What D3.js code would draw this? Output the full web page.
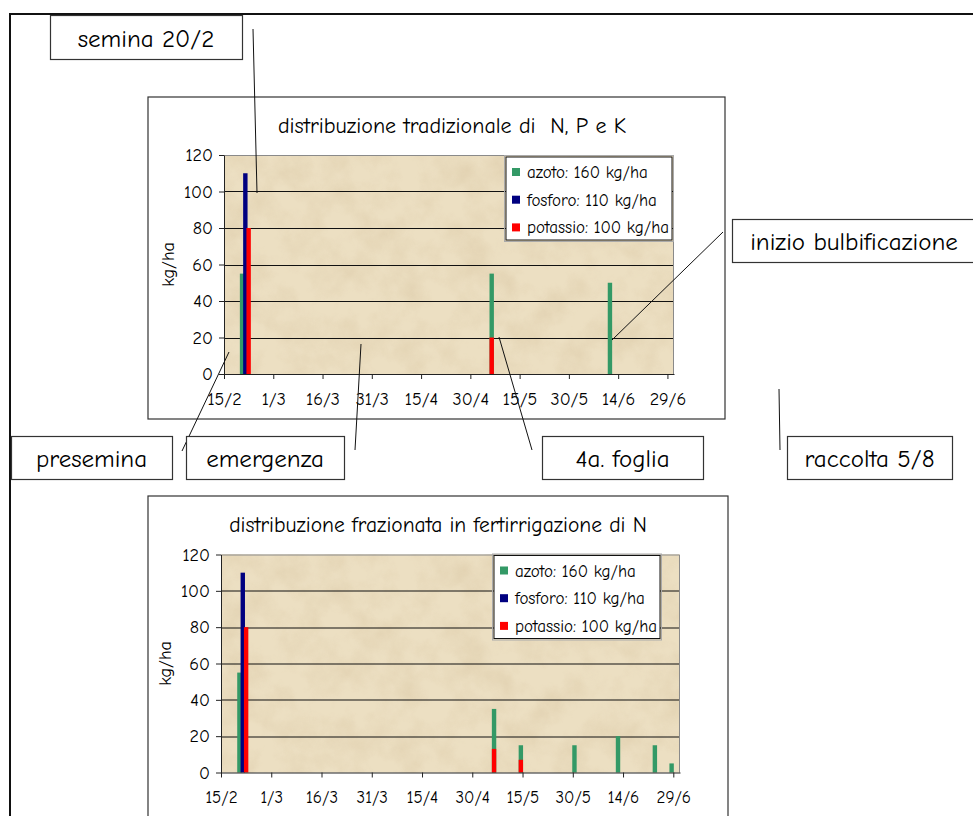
<!DOCTYPE html>
<html>
<head>
<meta charset="utf-8">
<script src="https://cdn.jsdelivr.net/npm/d3@7/dist/d3.min.js"></script>
<style>
  body { margin: 0; background: #fff; }
  svg text { font-family: "Comic Sans MS", "Comic Neue", "DejaVu Sans", sans-serif; fill: #000; white-space: pre; }
</style>
</head>
<body>
<div id="chart"></div>
<script>
// x tick labels (day/month), y ticks
const tickLabels = ["15/2", "1/3", "16/3", "31/3", "15/4", "30/4", "15/5", "30/5", "14/6", "29/6"];
const yTicks = [0, 20, 40, 60, 80, 100, 120];

const seriesNames = ["azoto: 160 kg/ha", "fosforo: 110 kg/ha", "potassio: 100 kg/ha"];
const seriesColors = ["#339966", "#000080", "#ff0000"];

// distribuzione tradizionale
const tradAzotoDates = ["20/2", "6/5", "11/6"];
const tradAzotoValues = [55, 55, 50];
const tradFosforoDates = ["21/2"];
const tradFosforoValues = [110];
const tradPotassioDates = ["22/2", "6/5"];
const tradPotassioValues = [80, 20];

// distribuzione frazionata in fertirrigazione
const frazAzotoDates = ["20/2", "6/5", "14/5", "30/5", "12/6", "23/6", "28/6"];
const frazAzotoValues = [55, 35, 15, 15, 20, 15, 5];
const frazFosforoDates = ["21/2"];
const frazFosforoValues = [110];
const frazPotassioDates = ["22/2", "6/5", "14/5"];
const frazPotassioValues = [80, 13, 7];

const parseDay = s => {
    let p = s.split("/");
    return new Date(2004, +p[1] - 1, +p[0]);
};

const width = 973, height = 816;

const svg = d3.select("#chart").append("svg")
    .attr("width", width)
    .attr("height", height);

svg.append("rect").attr("width", width).attr("height", height).attr("fill", "#fff");

// paper texture for the plot areas
const defs = svg.append("defs");
const filt = defs.append("filter").attr("id", "paper")
    .attr("x", 0).attr("y", 0).attr("width", 1).attr("height", 1);
filt.append("feTurbulence")
    .attr("type", "fractalNoise")
    .attr("baseFrequency", "0.03")
    .attr("numOctaves", 5)
    .attr("seed", 7);
filt.append("feColorMatrix")
    .attr("type", "matrix")
    .attr("values", "0 0 0 0 0.74  0 0 0 0 0.62  0 0 0 0 0.42  1.9 0 0 0 -0.72");

// outer frame
svg.append("rect")
    .attr("x", 10).attr("y", 14)
    .attr("width", 1000).attr("height", 900)
    .attr("fill", "none")
    .attr("stroke", "#111")
    .attr("stroke-width", 2);

function drawChart(cfg) {
    let g = svg.append("g");

    // chart frame
    g.append("rect")
        .attr("x", cfg.frame.x).attr("y", cfg.frame.y)
        .attr("width", cfg.frame.w).attr("height", cfg.frame.h)
        .attr("fill", "#fff")
        .attr("stroke", "#333")
        .attr("stroke-width", 1.2);

    g.append("text")
        .attr("x", cfg.titleX)
        .attr("y", cfg.titleY)
        .attr("text-anchor", "middle")
        .attr("font-size", cfg.titleFont)
        .text(cfg.title);

    let p = g.append("g")
        .attr("transform", "translate(" + cfg.plot.x + "," + cfg.plot.y + ")");

    let x = d3.scaleTime()
        .domain([new Date(2004, 1, 15), new Date(2004, 6, 1)])
        .range([0, cfg.plot.w]);
    let y = d3.scaleLinear()
        .domain([0, 120])
        .range([cfg.plot.h, 0]);

    // background
    p.append("rect")
        .attr("width", cfg.plot.w).attr("height", cfg.plot.h)
        .attr("fill", "#ecdfc2");
    p.append("rect")
        .attr("width", cfg.plot.w).attr("height", cfg.plot.h)
        .attr("filter", "url(#paper)")
        .attr("opacity", 0.75);

    // gridlines
    p.selectAll(".grid")
        .data(yTicks.filter(d => d > 0 && d < 120))
        .enter().append("line")
        .attr("x1", 0).attr("x2", cfg.plot.w)
        .attr("y1", d => Math.round(y(d)) + 0.5)
        .attr("y2", d => Math.round(y(d)) + 0.5)
        .attr("stroke", "#111")
        .attr("stroke-width", 1);

    // plot border (top / right)
    p.append("path")
        .attr("d", "M0,0.5H" + (cfg.plot.w - 0.5) + "V" + cfg.plot.h)
        .attr("fill", "none")
        .attr("stroke", "#8a8a8a");

    // bars
    let halfDay = (x(new Date(2004, 1, 16)) - x(new Date(2004, 1, 15))) / 2;
    let barW = 4.4;
    cfg.series.forEach((s, i) => {
        let rows = s.dates.map((d, j) => ({date: parseDay(d), value: s.values[j]}));
        p.selectAll(".bar-" + i)
            .data(rows)
            .enter().append("rect")
            .attr("x", d => x(d.date) + halfDay - barW / 2)
            .attr("y", d => y(d.value))
            .attr("width", barW)
            .attr("height", d => cfg.plot.h - y(d.value))
            .attr("fill", seriesColors[i]);
    });

    // axes
    let xAxis = d3.axisBottom(x)
        .tickValues(tickLabels.map(parseDay))
        .tickFormat((d, i) => tickLabels[i])
        .tickSize(5)
        .tickSizeOuter(0)
        .tickPadding(cfg.xPad);
    let yAxis = d3.axisLeft(y)
        .tickValues(yTicks)
        .tickSize(5)
        .tickSizeOuter(0)
        .tickPadding(6);

    p.append("g")
        .attr("transform", "translate(0," + cfg.plot.h + ")")
        .call(xAxis)
        .attr("font-size", cfg.xFont)
        .attr("color", "#222");
    p.append("g")
        .call(yAxis)
        .attr("font-size", 18)
        .attr("color", "#222");

    // y axis title
    p.append("text")
        .attr("transform", "translate(" + (-50) + "," + (cfg.plot.h / 2) + ") rotate(-90)")
        .attr("text-anchor", "middle")
        .attr("font-size", 18)
        .text("kg/ha");

    // legend
    let lg = p.append("g")
        .attr("transform", "translate(" + cfg.legend.x + "," + cfg.legend.y + ")");
    lg.append("rect")
        .attr("x", -1.5).attr("y", -1.5)
        .attr("width", 169).attr("height", 86)
        .attr("fill", "none")
        .attr("stroke", "#aaa");
    lg.append("rect")
        .attr("width", 166).attr("height", 83)
        .attr("fill", "#fff")
        .attr("stroke", "#111");
    seriesNames.forEach((name, i) => {
        lg.append("rect")
            .attr("x", 6).attr("y", 11 + i * 27.7)
            .attr("width", 8).attr("height", 8)
            .attr("fill", seriesColors[i]);
        lg.append("text")
            .attr("x", 21).attr("y", 15.5 + i * 27.7)
            .attr("dominant-baseline", "central")
            .attr("font-size", 17)
            .text(name);
    });
}

drawChart({
    frame: {x: 148, y: 97, w: 577, h: 322},
    plot: {x: 224, y: 155, w: 450, h: 219},
    title: "distribuzione tradizionale di  N, P e K",
    titleX: 452,
    titleY: 133,
    titleFont: 22,
    xPad: 13,
    xFont: 18,
    legend: {x: 282, y: 2},
    series: [
        {dates: tradAzotoDates, values: tradAzotoValues},
        {dates: tradFosforoDates, values: tradFosforoValues},
        {dates: tradPotassioDates, values: tradPotassioValues}
    ]
});

drawChart({
    frame: {x: 148, y: 496, w: 580, h: 400},
    plot: {x: 221, y: 554.5, w: 459, h: 218},
    title: "distribuzione frazionata in fertirrigazione di N",
    titleX: 438,
    titleY: 532,
    titleFont: 21.5,
    xPad: 13,
    xFont: 17,
    legend: {x: 273, y: 1},
    series: [
        {dates: frazAzotoDates, values: frazAzotoValues},
        {dates: frazFosforoDates, values: frazFosforoValues},
        {dates: frazPotassioDates, values: frazPotassioValues}
    ]
});

// leader lines for the crop stages
const leaders = [
    [253, 29, 257, 193],
    [229, 352, 182, 451],
    [361, 344, 355, 450],
    [499, 337, 532, 450],
    [612, 340, 723, 232],
    [779, 389, 780, 450]
];
svg.selectAll(".leader")
    .data(leaders)
    .enter().append("line")
    .attr("x1", d => d[0]).attr("y1", d => d[1])
    .attr("x2", d => d[2]).attr("y2", d => d[3])
    .attr("stroke", "#111")
    .attr("stroke-width", 1);

// stage labels
const stages = [
    {text: "semina 20/2", x: 50, y: 15, w: 192, h: 44},
    {text: "inizio bulbificazione", x: 732, y: 219, w: 244, h: 43},
    {text: "presemina", x: 11, y: 436, w: 161, h: 43},
    {text: "emergenza", x: 186, y: 436, w: 158, h: 43},
    {text: "4a. foglia", x: 542, y: 436, w: 161, h: 43},
    {text: "raccolta 5/8", x: 787, y: 436, w: 165, h: 43}
];
let sg = svg.selectAll(".stage")
    .data(stages)
    .enter().append("g");
sg.append("rect")
    .attr("x", d => d.x + 0.5).attr("y", d => d.y + 0.5)
    .attr("width", d => d.w).attr("height", d => d.h)
    .attr("fill", "#fff")
    .attr("stroke", "#333")
    .attr("stroke-width", 1.2);
sg.append("text")
    .attr("x", d => d.x + d.w / 2)
    .attr("y", d => d.y + d.h / 2 + 1)
    .attr("text-anchor", "middle")
    .attr("dominant-baseline", "central")
    .attr("font-size", 25)
    .text(d => d.text);
</script>
</body>
</html>
